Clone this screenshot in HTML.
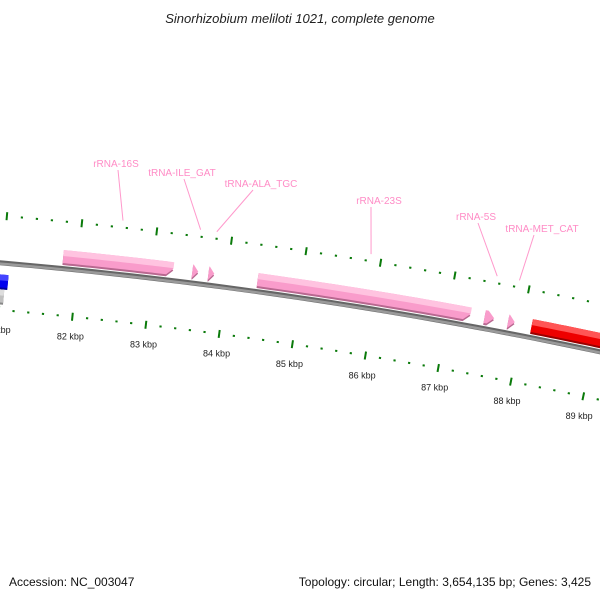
<!DOCTYPE html>
<html><head><meta charset="utf-8"><style>
html,body{margin:0;padding:0;background:#fff}
svg{display:block}
text{font-family:"Liberation Sans","DejaVu Sans",sans-serif}
</style></head><body>
<svg id="map" width="600" height="600" viewBox="0 0 600 600">
<text x="300" y="23" text-anchor="middle" font-size="13" font-style="italic" fill="#222">Sinorhizobium meliloti 1021, complete genome</text>
<text x="9" y="586" font-size="12" fill="#111">Accession: NC_003047</text>
<text x="591" y="586" font-size="12" fill="#111" text-anchor="end">Topology: circular; Length: 3,654,135 bp; Genes: 3,425</text>
<g id="ticks"></g><g id="backbone"></g><g id="feats"></g><g id="labels"></g>
</svg>
<script>
// data
const featNames = ["blue-gene","gray-gene","rRNA-16S","tRNA-ILE_GAT","tRNA-ALA_TGC","rRNA-23S","rRNA-5S","tRNA-MET_CAT","red-gene"];
const featStart = [80500,80500,81797,83535,83752,84415,87490,87810,88130];
const featEnd   = [81090,81050,83280,83614,83830,87300,87620,87900,89600];
const featStrand= [-1,-2,1,1,1,1,1,1,1];
const featColor = ["blue","gray","pink","pink","pink","pink","pink","pink","red"];
const featLabel = [null,null,"rRNA-16S","tRNA-ILE_GAT","tRNA-ALA_TGC","rRNA-23S","rRNA-5S","tRNA-MET_CAT",null];
const tickKbp = [80,81,82,83,84,85,86,87,88,89,90];

// geometry
const CX=-417, CY=5141, R=4896, PHI82=0.1011, RAD_PER_BP=0.01524/1000;
function ang(bp){return PHI82+(bp-82000)*RAD_PER_BP;}
function pt(bp,r){const a=ang(bp);return [CX+r*Math.sin(a),CY-r*Math.cos(a)];}
const NS="http://www.w3.org/2000/svg";
function mk(tag,attrs,parent){const e=document.createElementNS(NS,tag);for(const k in attrs)e.setAttribute(k,attrs[k]);parent.appendChild(e);return e;}
const gT=document.getElementById('ticks'),gB=document.getElementById('backbone'),gF=document.getElementById('feats'),gL=document.getElementById('labels');

// backbone
function arcPath(b0,b1,r){let d="";for(let i=0;i<=60;i++){const p=pt(b0+(b1-b0)*i/60,r);d+=(i?"L":"M")+p[0].toFixed(2)+" "+p[1].toFixed(2);}return d;}
let bb=mk('path',{d:arcPath(79000,91000,R),stroke:"#666",'stroke-width':5,fill:"none"},gB);


let bb2=mk('path',{d:arcPath(79000,91000,R-0.8),stroke:"#9a9a9a",'stroke-width':2.5,fill:"none"},gB);



// ticks
const RIN=4849, ROUT=4943, RLAB=4829;
for(let k=0;k<tickKbp.length-1;k++){
  for(let m=0;m<5;m++){
    const bp=tickKbp[k]*1000+m*200;
    [RIN,ROUT].forEach(r=>{
      const major=m===0;
      const h=major?4:1;
      const a=pt(bp,r-h),b=pt(bp,r+h);
      const t=mk('line',{x1:a[0],y1:a[1],x2:b[0],y2:b[1],stroke:"#0a7a0a",'stroke-width':major?2:2.2},gT);
      
      
    });
    if(m===0){
      const p=pt(bp,RLAB);
      const t=mk('text',{x:p[0],y:p[1]+3,'font-size':9,'text-anchor':'middle',fill:"#222"},gT);
      t.textContent=tickKbp[k]+" kbp";
      
      
    }
  }
}

// features
const COL={pink:["#f99ccb","#ffc3e0","#b86890"],red:["#ee0000","#ff5555","#990000"],blue:["#0000ee","#4444ff","#000099"],gray:["#c0c0c0","#dddddd","#888"]};
function featPoly(b0,b1,r,hw,arrow){
  const pts=[];const head=Math.min(90,(b1-b0)*0.9);
  const body=arrow?b1-head:b1;
  for(let i=0;i<=30;i++)pts.push(pt(b0+(body-b0)*i/30,r+hw));
  if(arrow){pts.push(pt(b1,r));}
  for(let i=30;i>=0;i--)pts.push(pt(b0+(body-b0)*i/30,r-hw));
  return pts.map(p=>p[0].toFixed(2)+","+p[1].toFixed(2)).join(" ");
}
for(let i=0;i<featNames.length;i++){
  const s=featStrand[i];
  const r= s===1?R+12: s===-1?R-18:R-33;
  const c=COL[featColor[i]];const arrow=featColor[i]==="pink";
  const g=mk('g',{},gF);
  
  
  mk('polygon',{points:featPoly(featStart[i],featEnd[i],r-2,6.5,arrow),fill:c[2]},g);
  mk('polygon',{points:featPoly(featStart[i],featEnd[i],r,6.5,arrow),fill:c[0]},g);
  mk('polygon',{points:featPoly(featStart[i],featEnd[i],r+3.5,3,false),fill:c[1],opacity:featEnd[i]-featStart[i]>200?1:0},g);
  if(featLabel[i]){
    const lp={"rRNA-16S":[116,163],"tRNA-ILE_GAT":[182,172],"tRNA-ALA_TGC":[261,183],"rRNA-23S":[379,200],"rRNA-5S":[476,216],"tRNA-MET_CAT":[542,228]}[featLabel[i]];
    const e=pt((featStart[i]+featEnd[i])/2,4950);
    const l=mk('line',{x1:lp[0]+(e[0]>lp[0]+5?2:(e[0]<lp[0]-5?-8:0)),y1:lp[1]+7,x2:e[0],y2:e[1],stroke:"#ff99cc",'stroke-width':1},gL);
    
    
    const t=mk('text',{x:lp[0],y:lp[1]+4,'font-size':10,'text-anchor':'middle',fill:"#ff8cc6"},gL);
    t.textContent=featLabel[i];
    
    
  }
}
</script>
</body></html>
